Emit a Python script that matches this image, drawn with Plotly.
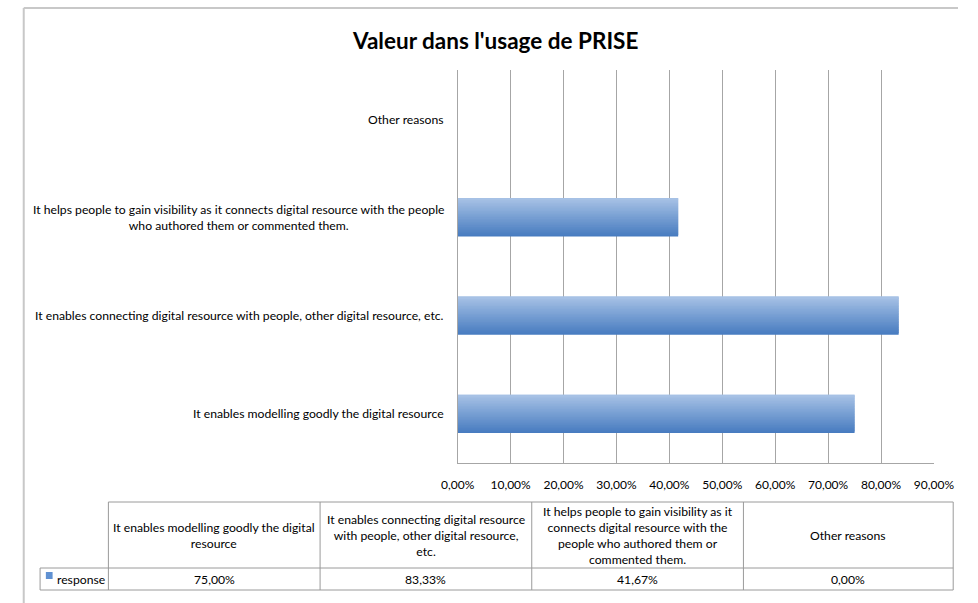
import plotly.graph_objects as go

# ---- data -------------------------------------------------------------
categories = [
    "It enables modelling goodly the digital resource",
    "It enables connecting digital resource with people, other digital resource, etc.",
    "It helps people to gain visibility as it connects digital resource with the people who authored them or commented them.",
    "Other reasons",
]
values = [0.75, 0.8333, 0.4167, 0.0]
series_name = "response"

axis_labels = [
    "It enables modelling goodly the digital resource",
    "It enables connecting digital resource with people, other digital resource, etc.",
    "It helps people to gain visibility as it connects digital resource with the people<br>who authored them or commented them.",
    "Other reasons",
]
table_headers = [
    "It enables modelling goodly the digital<br>resource",
    "It enables connecting digital resource<br>with people, other digital resource,<br>etc.",
    "It helps people to gain visibility as it<br>connects digital resource with the<br>people who authored them or<br>commented them.",
    "Other reasons",
]
x_ticks = [i / 10 for i in range(10)]

# ---- page geometry helpers (pixels -> paper) --------------------------
W, H = 978, 603
FONT = "Lato, 'Open Sans', sans-serif"
TXT = "#000000"
GRID = "#a6a6a6"
FS = 12.2


def px(x):
    return x / W


def py(y):
    return 1 - y / H


fig = go.Figure()

# bars drawn as stacked thin bands to give a vertical gradient
bar_w = 0.39
n_bands = 24
top_rgb = (166, 193, 229)
bot_rgb = (72, 124, 192)
band = bar_w / n_bands
for i in range(n_bands):
    t = i / (n_bands - 1)
    r, g, b = [round(bot_rgb[k] + (top_rgb[k] - bot_rgb[k]) * t) for k in range(3)]
    fig.add_trace(go.Bar(
        x=values, y=categories, orientation="h",
        width=min(2 * band, bar_w - i * band), offset=-bar_w / 2 + i * band,
        marker=dict(color=f"rgb({r},{g},{b})", line=dict(width=0)),
        name=series_name, showlegend=False, hoverinfo="skip",
    ))

fig.update_layout(
    width=W, height=H,
    margin=dict(l=0, r=0, t=0, b=0),
    paper_bgcolor="white", plot_bgcolor="white",
    barmode="overlay",
    separators=", ",
    font=dict(family=FONT, size=12, color=TXT),
    showlegend=False,
    xaxis=dict(
        domain=[px(458), px(953)],
        range=[0, 0.9], tickvals=x_ticks, tickformat=".2%",
        showgrid=True, gridcolor=GRID, gridwidth=1,
        showline=True, linecolor=GRID, linewidth=1,
        zeroline=False, ticks="", ticklabelstandoff=11,
        tickfont=dict(family=FONT, size=12, color=TXT),
        fixedrange=True,
    ),
    yaxis=dict(
        domain=[py(463), py(70)],
        categoryorder="array", categoryarray=categories,
        range=[-0.5, 3.5],
        showgrid=False, showline=True, linecolor=GRID, linewidth=1,
        zeroline=False, showticklabels=False, ticks="",
        fixedrange=True,
    ),
)

annotations = []
shapes = []

# title
annotations.append(dict(
    text="<b>Valeur dans l'usage de PRISE</b>", x=px(497), y=py(40),
    xref="paper", yref="paper", xanchor="center", yanchor="middle",
    showarrow=False, font=dict(family=FONT, size=22.5, color=TXT),
))

# category labels, centred text blocks right of the label column
for cat, lab in zip(categories, axis_labels):
    annotations.append(dict(
        text=lab, x=px(446), y=cat, xref="paper", yref="y",
        xanchor="right", yanchor="middle", align="center",
        showarrow=False, font=dict(family=FONT, size=FS, color=TXT),
    ))

# outer chart frame (top and left edges)
frame = dict(color="#c8c8c8", width=2)
shapes.append(dict(type="line", xref="paper", yref="paper",
                   x0=px(7), x1=1, y0=py(8), y1=py(8), line=frame))
shapes.append(dict(type="line", xref="paper", yref="paper",
                   x0=px(7), x1=px(7), y0=py(8), y1=0, line=frame))

# data table under the chart
col_edges = [95, 315, 535, 755, 973]
row_top, row_mid, row_bot, key_left = 502, 568, 590, 24
tline = dict(color="#9a9a9a", width=1)
shapes.append(dict(type="line", xref="paper", yref="paper",
                   x0=px(col_edges[0]), x1=px(col_edges[-1]),
                   y0=py(row_top), y1=py(row_top), line=tline))
for yy in (row_mid, row_bot):
    shapes.append(dict(type="line", xref="paper", yref="paper",
                       x0=px(key_left), x1=px(col_edges[-1]),
                       y0=py(yy), y1=py(yy), line=tline))
shapes.append(dict(type="line", xref="paper", yref="paper",
                   x0=px(key_left), x1=px(key_left),
                   y0=py(row_mid), y1=py(row_bot), line=tline))
for xe in col_edges:
    shapes.append(dict(type="line", xref="paper", yref="paper",
                       x0=px(xe), x1=px(xe),
                       y0=py(row_top), y1=py(row_bot), line=tline))

for k, (head, val) in enumerate(zip(table_headers, values)):
    cx = (col_edges[k] + col_edges[k + 1]) / 2
    annotations.append(dict(
        text=head, x=px(cx), y=py((row_top + row_mid) / 2),
        xref="paper", yref="paper", xanchor="center", yanchor="middle",
        align="center", showarrow=False,
        font=dict(family=FONT, size=FS, color=TXT),
    ))
    annotations.append(dict(
        text=f"{val * 100:.2f}%".replace(".", ","),
        x=px(cx), y=py((row_mid + row_bot) / 2),
        xref="paper", yref="paper", xanchor="center", yanchor="middle",
        showarrow=False, font=dict(family=FONT, size=FS, color=TXT),
    ))

# series key in the table row header
shapes.append(dict(type="rect", xref="paper", yref="paper",
                   x0=px(30), x1=px(37), y0=py(579), y1=py(572),
                   fillcolor="rgb(96,145,210)", line=dict(width=0)))
annotations.append(dict(
    text=series_name, x=px(39), y=py((row_mid + row_bot) / 2),
    xref="paper", yref="paper", xanchor="left", yanchor="middle",
    showarrow=False, font=dict(family=FONT, size=FS, color=TXT),
))

fig.update_layout(annotations=annotations, shapes=shapes)

# the page body's default margin would push the fixed-size figure off-screen
fig.write_html("out.html", post_script="document.body.style.margin = '0';")
